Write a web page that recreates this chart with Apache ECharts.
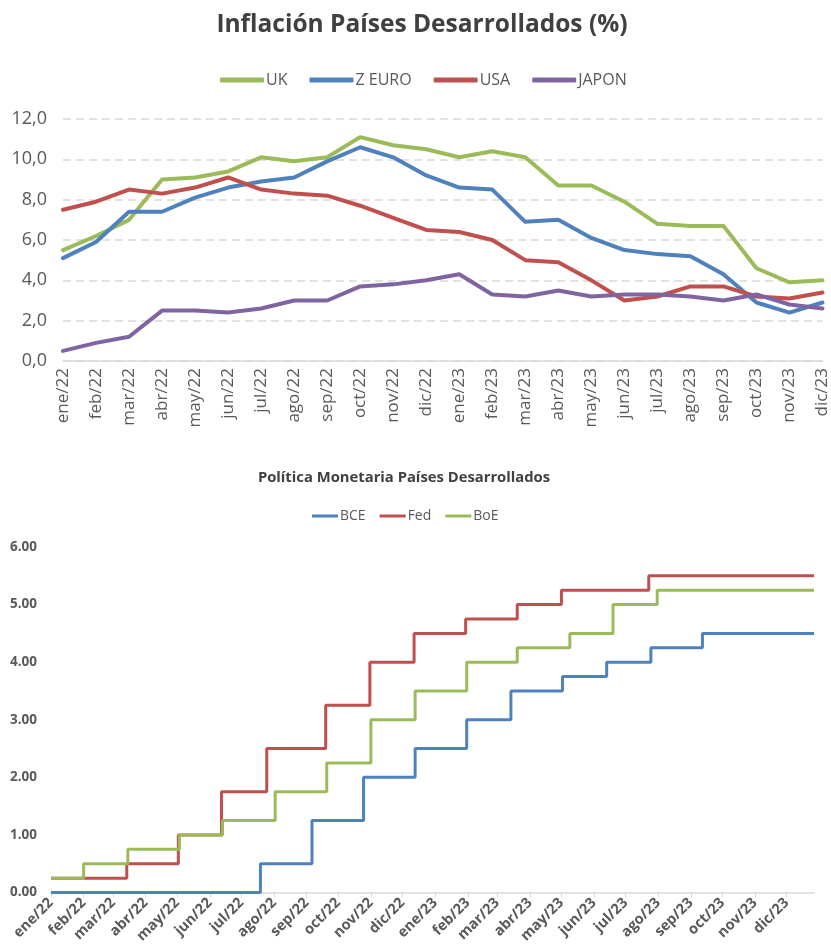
<!DOCTYPE html>
<html>
<head>
<meta charset="utf-8">
<script src="https://cdn.jsdelivr.net/npm/echarts@6/dist/echarts.min.js"></script>
<style>
html, body { margin: 0; padding: 0; background: #fff; }
#chart { width: 831px; height: 946px; }
</style>
</head>
<body>
<div id="chart"></div>
<script>
// meses (ejes de ambos graficos)
const months = ['ene/22', 'feb/22', 'mar/22', 'abr/22', 'may/22', 'jun/22', 'jul/22', 'ago/22', 'sep/22', 'oct/22', 'nov/22', 'dic/22',
    'ene/23', 'feb/23', 'mar/23', 'abr/23', 'may/23', 'jun/23', 'jul/23', 'ago/23', 'sep/23', 'oct/23', 'nov/23', 'dic/23'];

// inflacion (%)
const uk = [5.5, 6.2, 7.0, 9.0, 9.1, 9.4, 10.1, 9.9, 10.1, 11.1, 10.7, 10.5, 10.1, 10.4, 10.1, 8.7, 8.7, 7.9, 6.8, 6.7, 6.7, 4.6, 3.9, 4.0];
const zEuro = [5.1, 5.9, 7.4, 7.4, 8.1, 8.6, 8.9, 9.1, 9.9, 10.6, 10.1, 9.2, 8.6, 8.5, 6.9, 7.0, 6.1, 5.5, 5.3, 5.2, 4.3, 2.9, 2.4, 2.9];
const usa = [7.5, 7.9, 8.5, 8.3, 8.6, 9.1, 8.5, 8.3, 8.2, 7.7, 7.1, 6.5, 6.4, 6.0, 5.0, 4.9, 4.0, 3.0, 3.2, 3.7, 3.7, 3.2, 3.1, 3.4];
const japon = [0.5, 0.9, 1.2, 2.5, 2.5, 2.4, 2.6, 3.0, 3.0, 3.7, 3.8, 4.0, 4.3, 3.3, 3.2, 3.5, 3.2, 3.3, 3.3, 3.2, 3.0, 3.3, 2.8, 2.6];

// tasas de politica monetaria (cambios)
const monthStarts = ['2022-01-01', '2022-02-01', '2022-03-01', '2022-04-01', '2022-05-01', '2022-06-01', '2022-07-01', '2022-08-01',
    '2022-09-01', '2022-10-01', '2022-11-01', '2022-12-01', '2023-01-01', '2023-02-01', '2023-03-01', '2023-04-01',
    '2023-05-01', '2023-06-01', '2023-07-01', '2023-08-01', '2023-09-01', '2023-10-01', '2023-11-01', '2023-12-01'];
const rateStart = '2022-01-01';
const rateEnd = '2023-12-27';

const bceDates = ['2022-01-01', '2022-07-19', '2022-09-06', '2022-10-25', '2022-12-13', '2023-01-31', '2023-03-14', '2023-05-02', '2023-06-13', '2023-07-25', '2023-09-12', '2023-12-27'];
const bceRates = [0.00, 0.50, 1.25, 2.00, 2.50, 3.00, 3.50, 3.75, 4.00, 4.25, 4.50, 4.50];

const fedDates = ['2022-01-01', '2022-03-14', '2022-05-02', '2022-06-12', '2022-07-25', '2022-09-19', '2022-10-31', '2022-12-12', '2023-01-30', '2023-03-20', '2023-05-01', '2023-07-23', '2023-12-27'];
const fedRates = [0.25, 0.50, 1.00, 1.75, 2.50, 3.25, 4.00, 4.50, 4.75, 5.00, 5.25, 5.50, 5.50];

const boeDates = ['2022-01-01', '2022-02-01', '2022-03-15', '2022-05-03', '2022-06-13', '2022-08-02', '2022-09-20', '2022-11-01', '2022-12-13', '2023-01-31', '2023-03-20', '2023-05-09', '2023-06-19', '2023-07-31', '2023-12-27'];
const boeRates = [0.25, 0.50, 0.75, 1.00, 1.25, 1.75, 2.25, 3.00, 3.50, 4.00, 4.25, 4.50, 5.00, 5.25, 5.25];

const FONT = '"Open Sans", sans-serif';
const GREEN = '#9bbb59', BLUE = '#4f81bd', RED = '#c0504d', PURPLE = '#8064a2';

const myChart = echarts.init(document.getElementById('chart'));
const toTime = (d) => echarts.time.parse(d).getTime();
const tickTimes = monthStarts.map(toTime);

const lineSerie = (name, data, color) => ({
    name: name,
    type: 'line',
    xAxisIndex: 0,
    yAxisIndex: 0,
    data: data,
    showSymbol: false,
    symbol: 'none',
    lineStyle: { width: 4, color: color, cap: 'round', join: 'round' },
    itemStyle: { color: color },
    z: 3
});

const stepSerie = (name, dates, rates, color) => ({
    name: name,
    type: 'line',
    xAxisIndex: 1,
    yAxisIndex: 1,
    step: 'end', // el salto ocurre en la fecha del cambio
    data: dates.map((d, i) => [toTime(d), rates[i]]),
    showSymbol: false,
    symbol: 'none',
    lineStyle: { width: 3, color: color },
    itemStyle: { color: color }
});

let option = {
    backgroundColor: '#fff',
    animation: false,
    textStyle: { fontFamily: FONT },
    title: [
        {
            text: 'Inflación Países Desarrollados (%)',
            left: 417,
            top: 8,
            textAlign: 'center',
            textStyle: { fontFamily: FONT, fontSize: 24.5, fontWeight: 'bold', color: '#404040' }
        },
        {
            text: 'Política Monetaria Países Desarrollados',
            left: 399,
            top: 465,
            textAlign: 'center',
            textStyle: { fontFamily: FONT, fontSize: 14.8, fontWeight: 'bold', color: '#404040' }
        }
    ],
    legend: [
        {
            data: ['UK', 'Z EURO', 'USA', 'JAPON'],
            top: 67,
            left: 215,
            icon: 'roundRect',
            itemWidth: 44,
            itemHeight: 5,
            itemGap: 22,
            textStyle: { fontFamily: FONT, fontSize: 16, color: '#595959', padding: [0, 0, 0, -3] }
        },
        {
            data: ['BCE', 'Fed', 'BoE'],
            top: 504,
            left: 307,
            icon: 'rect',
            itemWidth: 26,
            itemHeight: 3,
            itemGap: 14,
            textStyle: { fontFamily: FONT, fontSize: 14, color: '#595959', padding: [0, 0, 0, -3] }
        }
    ],
    grid: [
        { left: 63, right: 8, top: 119, height: 242 },
        { left: 51, right: 17, top: 547, height: 347 }
    ],
    xAxis: [
        {
            gridIndex: 0,
            type: 'category',
            data: months,
            boundaryGap: false,
            axisLine: { lineStyle: { color: '#d9d9d9', width: 1.5 } },
            axisTick: { show: false },
            axisLabel: { rotate: 90, margin: 7, interval: 0, fontFamily: FONT, fontSize: 17, color: '#595959' }
        },
        {
            gridIndex: 1,
            type: 'value',
            min: toTime(rateStart),
            max: toTime(rateEnd),
            splitLine: { show: false },
            axisLine: { lineStyle: { color: '#d9d9d9', width: 1.5 } },
            axisTick: { show: true, length: 5, lineStyle: { color: '#d9d9d9' }, customValues: tickTimes },
            axisLabel: {
                rotate: 45,
                margin: 8,
                customValues: tickTimes,
                fontFamily: FONT,
                fontSize: 14.5,
                fontWeight: 'bold',
                color: '#595959',
                formatter: (val) => {
                    const i = tickTimes.indexOf(val);
                    return i >= 0 ? months[i] : '';
                }
            }
        }
    ],
    yAxis: [
        {
            gridIndex: 0,
            type: 'value',
            min: 0,
            max: 12,
            interval: 2,
            axisLine: { show: false },
            axisTick: { show: false },
            splitLine: { lineStyle: { color: '#d9d9d9', width: 1.5, type: [8, 5] } },
            axisLabel: {
                margin: 16,
                fontFamily: FONT,
                fontSize: 18,
                color: '#595959',
                formatter: (v) => v.toFixed(1).replace('.', ',')
            }
        },
        {
            gridIndex: 1,
            type: 'value',
            min: 0,
            max: 6,
            interval: 1,
            axisLine: { show: false },
            axisTick: { show: false },
            splitLine: { show: false },
            axisLabel: {
                margin: 14,
                fontFamily: FONT,
                fontSize: 13.5,
                fontWeight: 'bold',
                color: '#595959',
                formatter: (v) => v.toFixed(2)
            }
        }
    ],
    series: [
        lineSerie('UK', uk, GREEN),
        lineSerie('Z EURO', zEuro, BLUE),
        lineSerie('USA', usa, RED),
        lineSerie('JAPON', japon, PURPLE),
        stepSerie('BCE', bceDates, bceRates, BLUE),
        stepSerie('Fed', fedDates, fedRates, RED),
        stepSerie('BoE', boeDates, boeRates, GREEN)
    ]
};

myChart.setOption(option);
</script>
</body>
</html>
